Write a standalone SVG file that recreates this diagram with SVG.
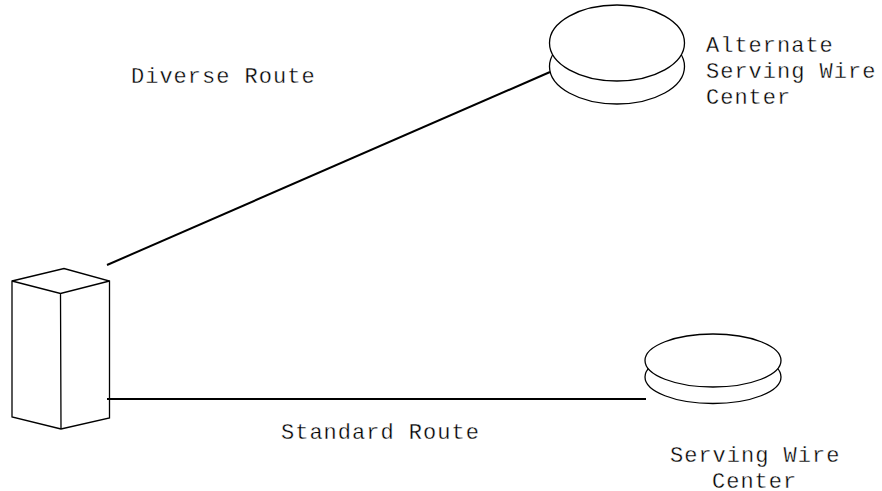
<svg xmlns="http://www.w3.org/2000/svg" width="882" height="491" viewBox="0 0 882 491">
<style>
.s{fill:#fff;stroke:#000;stroke-width:1.3}
.c{fill:none;stroke:#000;stroke-width:2}
text{font-family:"Liberation Mono",monospace;font-size:22px;letter-spacing:1px;fill:#000;stroke:#fff;stroke-width:0.35px}
</style>
<rect width="882" height="491" fill="#fff"/>
<g id="alternate-wire-center">
<ellipse class="s" cx="617" cy="66.500" rx="67.500" ry="37.500"/>
<ellipse class="s" cx="617" cy="43" rx="67.500" ry="38"/>
</g>
<g id="serving-wire-center">
<ellipse class="s" cx="713" cy="377" rx="68" ry="26.500"/>
<ellipse class="s" cx="713" cy="360.500" rx="68" ry="26.500"/>
</g>
<g id="building">
<path class="s" d="M12 281L64 268.500L109.500 281V418L61 429L12 417Z"/>
<path class="s" d="M12 281L60.500 293.500L109.500 281M60.500 293.500L61 429"/>
</g>
<g id="connectors">
<line class="c" x1="107" y1="265" x2="550" y2="72"/>
<line class="c" x1="107" y1="399" x2="646" y2="399"/>
</g>
<g id="labels">
<text x="131" y="83">Diverse Route</text>
<text x="706" y="52">Alternate</text>
<text x="706" y="78">Serving Wire</text>
<text x="706" y="103.500">Center</text>
<text x="281" y="439">Standard Route</text>
<text x="670" y="462">Serving Wire</text>
<text x="712" y="488">Center</text>
</g>
</svg>
